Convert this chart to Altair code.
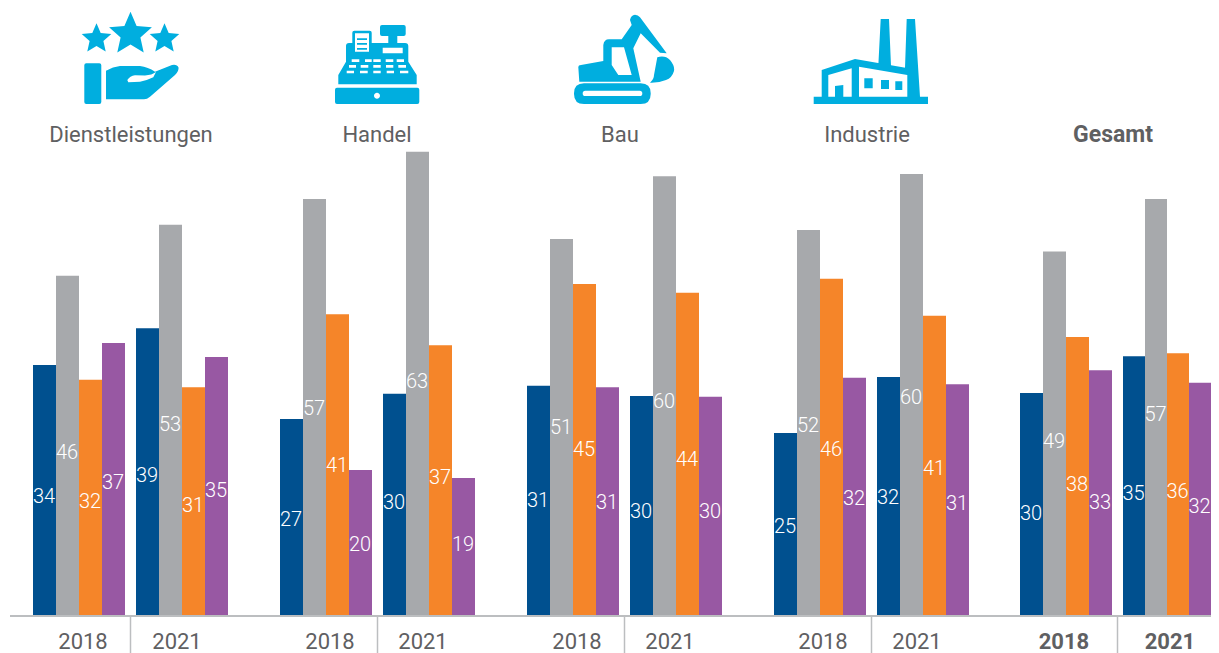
import altair as alt
import pandas as pd

# ---- data
sectors = ["Dienstleistungen", "Handel", "Bau", "Industrie", "Gesamt"]
years = ["2018", "2021"]
series = ["A", "B", "C", "D"]

# printed labels, per sector-year in series order
labels_dl = [34, 46, 32, 37, 39, 53, 31, 35]
labels_ha = [27, 57, 41, 20, 30, 63, 37, 19]
labels_ba = [31, 51, 45, 31, 30, 60, 44, 30]
labels_in = [25, 52, 46, 32, 32, 60, 41, 31]
labels_ge = [30, 49, 38, 33, 35, 57, 36, 32]

# bar heights as measured (unrounded values)
values_dl = [34.0, 46.1, 32.0, 37.0, 39.0, 53.0, 31.0, 35.1]
values_ha = [26.7, 56.5, 40.9, 19.8, 30.1, 62.9, 36.7, 18.7]
values_ba = [31.2, 51.1, 45.0, 31.0, 29.8, 59.6, 43.8, 29.7]
values_in = [24.8, 52.3, 45.7, 32.3, 32.4, 59.9, 40.7, 31.4]
values_ge = [30.2, 49.4, 37.8, 33.3, 35.2, 56.5, 35.6, 31.6]

# height on the value axis at which each printed label sits
label_at_dl = [16.3, 22.2, 15.6, 18.2, 19.1, 26.0, 15.0, 17.1]
label_at_ha = [13.1, 28.2, 20.5, 9.8, 15.4, 31.8, 18.8, 9.8]
label_at_ba = [15.7, 25.6, 22.6, 15.4, 14.2, 29.1, 21.3, 14.2]
label_at_in = [12.2, 25.9, 22.6, 16.0, 16.1, 29.7, 20.1, 15.3]
label_at_ge = [14.0, 23.7, 17.9, 15.4, 16.7, 27.4, 16.9, 14.9]

# ---- layout and style
W, H = 1219, 653
RIGHT = W - 8  # last page pixel the chart can reach without the page overflowing
BASE_Y = 616
PX_PER_UNIT = 7.38
COLORS = ["#00508F", "#A7A9AC", "#F58529", "#9858A3"]
ICON = "#00AEDF"
TEXT = "#5F6062"
LINE = "#BCBEC0"
FONT = "Roboto"
group_left = [33, 280, 527, 774, 1020]
year_step = 103
bar_w = 23
last_bar_w = 22
header_x = [131, 377, 620, 867, 1113]
year_x = [83, 177, 330, 423, 577, 670, 823, 917, 1064, 1170]
sep_x = [130.5, 377.5, 624.5, 871.5, 1117.5]

all_values = [values_dl, values_ha, values_ba, values_in, values_ge]
all_labels = [labels_dl, labels_ha, labels_ba, labels_in, labels_ge]
all_label_at = [label_at_dl, label_at_ha, label_at_ba, label_at_in, label_at_ge]

rows = []
for g, sector in enumerate(sectors):
    for i in range(8):
        y_i, s_i = divmod(i, 4)
        w = last_bar_w if (g == 4 and y_i == 1) else bar_w
        left = group_left[g] + y_i * year_step + s_i * w
        rows.append(
            dict(
                sector=sector,
                year=years[y_i],
                series=series[s_i],
                value=all_values[g][i],
                label=str(all_labels[g][i]),
                label_at=all_label_at[g][i],
                x=left,
                x2=left + w,
                xc=left + w / 2,
                base=0,
            )
        )
df = pd.DataFrame(rows)

x_scale = alt.Scale(domain=[8, RIGHT], range=[0, RIGHT - 8], nice=False, zero=False)
y_scale = alt.Scale(
    domain=[(BASE_Y - H) / PX_PER_UNIT, (BASE_Y - 8) / PX_PER_UNIT],
    range=[H - 8, 0],
    nice=False,
    zero=False,
)
X = lambda f: alt.X(f, type="quantitative", scale=x_scale, axis=None)
Y = lambda f: alt.Y(f, type="quantitative", scale=y_scale, axis=None)

bars = (
    alt.Chart(df)
    .mark_bar(cornerRadius=0)
    .encode(
        x=X("x"),
        x2="x2",
        y=Y("value"),
        y2="base",
        color=alt.Color(
            "series:N", scale=alt.Scale(domain=series, range=COLORS), legend=None
        ),
    )
)
bar_text = (
    alt.Chart(df)
    .mark_text(font=FONT, fontSize=20, fontWeight=300, color="white", baseline="middle", align="center", dx=-0.5, dy=1)
    .encode(x=X("xc"), y=Y("label_at"), text="label:N")
)

baseline = (
    alt.Chart(pd.DataFrame({"a": [10], "b": [RIGHT], "y": [0]}))
    .mark_rule(color=LINE, strokeWidth=2)
    .encode(x=X("a"), x2="b", y=Y("y"))
)
seps = (
    alt.Chart(pd.DataFrame({"x": sep_x, "a": [0] * 5, "b": [(BASE_Y - H) / PX_PER_UNIT] * 5}))
    .mark_rule(color=LINE, strokeWidth=1.5)
    .encode(x=X("x"), y=Y("a"), y2="b")
)

head_df = pd.DataFrame({"t": sectors, "x": header_x})
year_df = pd.DataFrame({"t": years * 5, "x": year_x})


def txt(frame, weight, ypx, size):
    return (
        alt.Chart(frame)
        .mark_text(
            font=FONT, fontSize=size, fontWeight=weight, color=TEXT,
            baseline="middle", align="center",
        )
        .encode(x=X("x"), y=alt.value(ypx - 8), text="t:N")
    )


heads = txt(head_df[:4], 400, 135, 22) + txt(head_df[4:], 700, 135, 23)
year_texts = txt(year_df[:8], 400, 642, 22) + txt(year_df[8:], 700, 642, 22)


# ---- pictograms: SVG outlines in page pixels
def rect(x0, y0, x1, y1):
    return f"M{x0} {y0}L{x1} {y0}L{x1} {y1}L{x0} {y1}Z"


def rrect(x0, y0, x1, y1, r):
    return (
        f"M{x0 + r} {y0}L{x1 - r} {y0}Q{x1} {y0} {x1} {y0 + r}L{x1} {y1 - r}"
        f"Q{x1} {y1} {x1 - r} {y1}L{x0 + r} {y1}Q{x0} {y1} {x0} {y1 - r}"
        f"L{x0} {y0 + r}Q{x0} {y0} {x0 + r} {y0}Z"
    )


def star(cx, cy, r):
    pts = [
        (cx + 0.0 * r, cy - r), (cx + 0.27 * r, cy - 0.37 * r),
        (cx + 0.951 * r, cy - 0.309 * r), (cx + 0.44 * r, cy + 0.14 * r),
        (cx + 0.588 * r, cy + 0.809 * r), (cx, cy + 0.46 * r),
        (cx - 0.588 * r, cy + 0.809 * r), (cx - 0.44 * r, cy + 0.14 * r),
        (cx - 0.951 * r, cy - 0.309 * r), (cx - 0.27 * r, cy - 0.37 * r),
    ]
    return "M" + "L".join(f"{a:.1f} {b:.1f}" for a, b in pts) + "Z"


keys = [
    (59.3, 62, [(351.7, 359.3), (365, 371.7), (373.3, 380.7), (385.7, 393.3), (396.7, 404)]),
    (65, 67.7, [(349, 356), (360.7, 368.3), (373.3, 380.7), (386, 393.3), (398.3, 406)]),
    (70.7, 73.3, [(346.7, 354), (360, 367.7), (373.3, 380.7), (386.7, 394), (400, 408.3)]),
]
key_path = "".join(rect(a, y0, b, y1) for y0, y1, ks in keys for a, b in ks)

icon_blue = "".join([
    # services
    star(130.5, 34.2, 22.5), star(96.5, 38.9, 15.6), star(164.5, 38.9, 15.6),
    rrect(84.3, 63.3, 101.3, 104, 2),
    "M106 70.7Q113 66.5 120 66L140 66Q148 67 155 71.7L172 65Q177 64 178.5 67.5Q179 71 175 75"
    "L150 96.7Q147 99.3 144 99.3L106 99.3Z",
    # till
    rrect(335, 87.7, 419.3, 104, 2),
    "M346 46Q346 43 349 43L405 43Q408.3 43 408.3 46L408.3 61.7L416.7 75L416.7 84.3L338.3 84.3L338.3 75L346 61.7Z",
    rrect(352.3, 30.7, 371.7, 53.3, 2),
    rrect(380, 25, 405.7, 36, 2), rect(388.3, 36, 397.3, 43),
    # excavator
    rrect(574, 83.3, 650.7, 104, 10),
    "M578.3 67Q578.3 65 581 65L603.3 61L603.3 45Q604 39.3 609 39.3L621.7 39.3L631.7 25L630 20"
    "Q631 15 635 14.7Q638 15 640 17.3L666.7 53.3L660 52.7L640.7 33.3L633.3 48.3L640.7 81.7L579.3 81.7Z",
    "M657.3 57.3Q665 55 670 60Q675 66 674 71Q672 78 666 80Q659 83 650 82.7Q654 79 654 75Z",
    # factory
    rect(813.7, 96.7, 928, 104),
    "M880.7 19L889 19L891 66L878.3 66Z", "M906.7 19L915 19L920 97L904 97Z",
    "M821.7 70L855 59L908.3 68.3L908.3 97L821.7 97Z",
])
icon_white = "".join([
    "M127.3 80Q130 76 135 75.3L145 75.5Q152 75 156 72L153.3 77.3Q147 80.5 140 81.7L128.3 82.3Z",
    # till details
    rect(355, 33.3, 369, 51.7), rect(382.7, 47.7, 402.7, 53.3), key_path,
    "M374 95.7A3 3 0 1 0 380 95.7A3 3 0 1 0 374 95.7Z",
    # excavator details
    rrect(582.7, 90.7, 642.3, 96, 2.6),
    "M611.7 47.3L624 47.3L631.7 75L618.3 75L611.7 65Z",
    # factory details
    "M828.3 75L851.7 68.3L851.7 96.7L843.3 96.7L843.3 85L835 86L835 96.7L828.3 96.7Z",
    "M859 66.7L907.3 75L907.3 96.7L859 96.7Z",
])
icon_detail = "".join([
    rect(357, 38.3, 367, 40), rect(357, 43, 367, 44.7), rect(357, 48, 367, 49.7),
    rect(864.3, 78.3, 872.7, 88.3), rect(881, 80, 889, 89), rect(895.3, 81.3, 902.3, 90),
])


def glyph(path, colour):
    return (
        alt.Chart(pd.DataFrame({"icon": ["pictogram"]}))
        .mark_point(shape=path, filled=True, fill=colour, size=4, opacity=1, strokeWidth=0)
        .encode(x=alt.value(-8), y=alt.value(-8))
    )


chart = (
    alt.layer(
        bars, bar_text, seps, baseline, heads, year_texts,
        glyph(icon_blue, ICON), glyph(icon_white, "white"), glyph(icon_detail, ICON),
    )
    .resolve_scale(color="independent")
    .properties(
        width=RIGHT - 8, height=H - 8, padding=0,
        autosize=alt.AutoSizeParams(type="none"),
        background="white",
    )
    .configure_view(stroke=None)
)

chart.save("out.html", embed_options={"renderer": "svg", "actions": False})
